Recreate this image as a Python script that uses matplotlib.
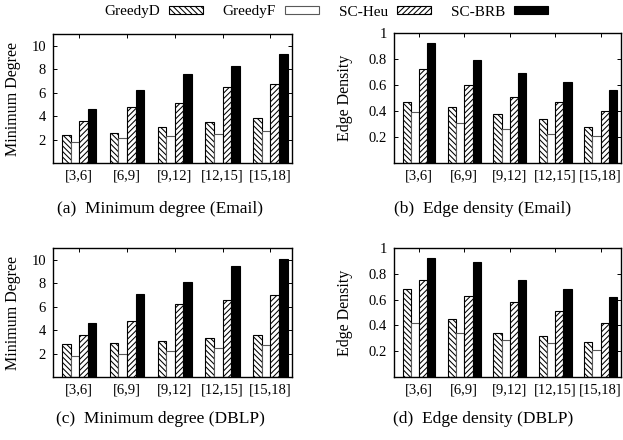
import matplotlib
matplotlib.use('Agg')
import matplotlib.pyplot as plt
from matplotlib.patches import Patch
import numpy as np

plt.rcParams['font.family'] = ['Liberation Serif', 'DejaVu Serif']
plt.rcParams['hatch.linewidth'] = 0.75

groups = ['[3,6]', '[6,9]', '[9,12]', '[12,15]', '[15,18]']
methods = ['GreedyD', 'GreedyF', 'SC-Heu', 'SC-BRB']

# (a) minimum degree, Email
email_deg = {
    'GreedyD': [2.4, 2.6, 3.1, 3.5, 3.8],
    'GreedyF': [1.8, 2.1, 2.3, 2.5, 2.7],
    'SC-Heu':  [3.6, 4.8, 5.1, 6.5, 6.7],
    'SC-BRB':  [4.6, 6.2, 7.6, 8.3, 9.3],
}
# (b) edge density, Email
email_den = {
    'GreedyD': [0.47, 0.43, 0.38, 0.34, 0.28],
    'GreedyF': [0.39, 0.31, 0.26, 0.22, 0.21],
    'SC-Heu':  [0.72, 0.60, 0.51, 0.47, 0.40],
    'SC-BRB':  [0.92, 0.79, 0.69, 0.62, 0.56],
}
# (c) minimum degree, DBLP
dblp_deg = {
    'GreedyD': [2.8, 2.9, 3.1, 3.3, 3.6],
    'GreedyF': [1.8, 2.0, 2.2, 2.5, 2.7],
    'SC-Heu':  [3.6, 4.8, 6.2, 6.6, 7.0],
    'SC-BRB':  [4.6, 7.1, 8.1, 9.5, 10.1],
}
# (d) edge density, DBLP
dblp_den = {
    'GreedyD': [0.68, 0.45, 0.34, 0.32, 0.27],
    'GreedyF': [0.42, 0.34, 0.29, 0.26, 0.21],
    'SC-Heu':  [0.75, 0.63, 0.58, 0.51, 0.42],
    'SC-BRB':  [0.92, 0.89, 0.75, 0.68, 0.62],
}

deg_ticks = [2, 4, 6, 8, 10]
den_ticks = [0.2, 0.4, 0.6, 0.8, 1.0]
den_ticklabels = ['0.2', '0.4', '0.6', '0.8', '1']

styles = {
    'GreedyD': dict(facecolor='white', edgecolor='black', hatch='\\\\\\\\\\\\'),
    'GreedyF': dict(facecolor='white', edgecolor='0.35', hatch=None),
    'SC-Heu':  dict(facecolor='white', edgecolor='black', hatch='//////'),
    'SC-BRB':  dict(facecolor='black', edgecolor='black', hatch=None),
}

W, H = 623, 440
fig = plt.figure(figsize=(W / 100, H / 100), dpi=100)


def px_axes(left, top, right, bottom):
    return fig.add_axes([left / W, 1 - bottom / H, (right - left) / W, (bottom - top) / H])


def draw(ax, data, ylim, yticks, yticklabels, ylabel, label_x):
    x = np.arange(len(groups))
    w = 0.18
    for i, m in enumerate(methods):
        ax.bar(x + (i - 1.5) * w, data[m], w, linewidth=0.8, **styles[m])
    ax.set_xlim(-0.55, 4.45)
    ax.set_ylim(*ylim)
    ax.set_xticks(x)
    ax.set_xticklabels(groups, fontsize=10.5)
    ax.set_yticks(yticks)
    ax.set_yticklabels(yticklabels, fontsize=10.5)
    ax.set_ylabel(ylabel, fontsize=11.5)
    ax.yaxis.set_label_coords(label_x, 0.5)
    ax.tick_params(direction='in', top=True, right=True, length=3, width=0.7, pad=5)
    for s in ax.spines.values():
        s.set_linewidth(1.0)


axa = px_axes(53, 34, 292, 163)
draw(axa, email_deg, (0, 11), deg_ticks, [str(t) for t in deg_ticks], 'Minimum Degree', -0.134)
axb = px_axes(394, 33, 621, 163)
draw(axb, email_den, (0, 1), den_ticks, den_ticklabels, 'Edge Density', -0.18)
axc = px_axes(53, 248, 292, 377)
draw(axc, dblp_deg, (0, 11), deg_ticks, [str(t) for t in deg_ticks], 'Minimum Degree', -0.134)
axd = px_axes(394, 248, 621, 377)
draw(axd, dblp_den, (0, 1), den_ticks, den_ticklabels, 'Edge Density', -0.18)

captions = [
    (160, 209, '(a)  Minimum degree (Email)'),
    (483, 209, '(b)  Edge density (Email)'),
    (160, 419, '(c)  Minimum degree (DBLP)'),
    (483, 419, '(d)  Edge density (DBLP)'),
]
for cx, cy, txt in captions:
    fig.text(cx / W, 1 - cy / H, txt, fontsize=12.5, ha='center', va='center')

handles = [Patch(linewidth=0.8, **styles[m]) for m in methods]
fig.legend(handles, methods, loc='center', bbox_to_anchor=(326 / W, 1 - 12 / H),
           ncol=4, frameon=False, markerfirst=False, fontsize=11,
           handlelength=2.2, handleheight=0.5, handletextpad=0.6, columnspacing=1.3)

fig.savefig('out.png', dpi=100)
